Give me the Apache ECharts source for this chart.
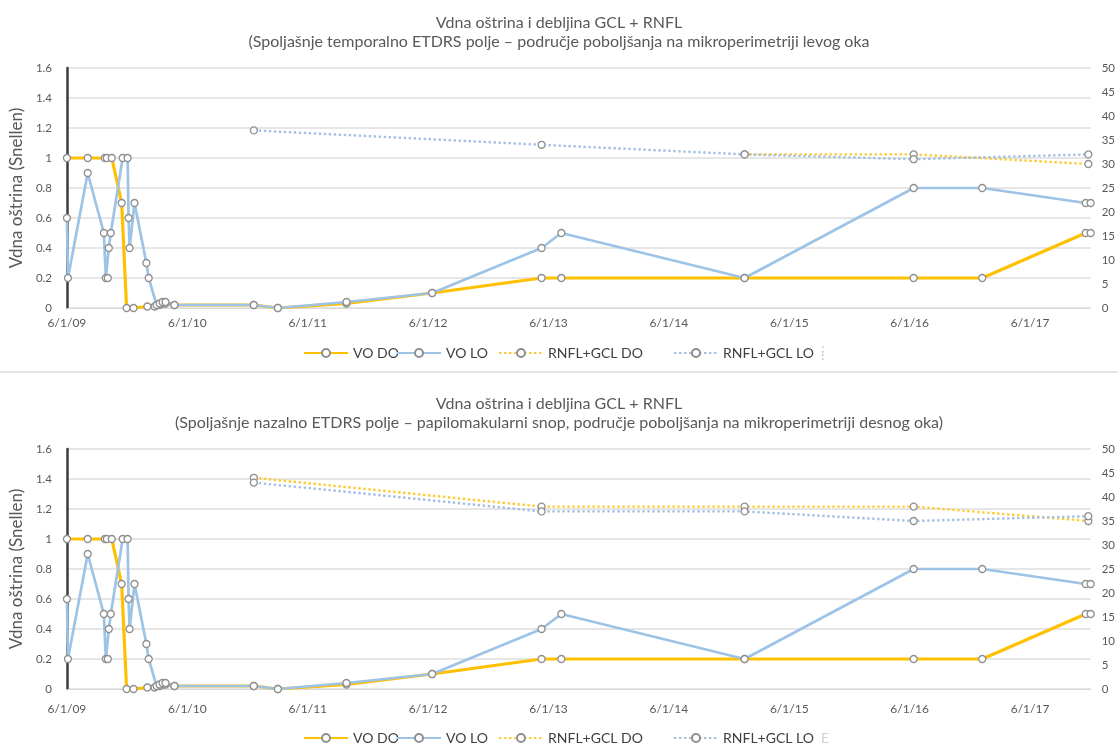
<!DOCTYPE html>
<html>
<head>
<meta charset="utf-8">
<script src="https://cdn.jsdelivr.net/npm/echarts@6/dist/echarts.min.js"></script>
<style>
  html, body { margin: 0; padding: 0; background: #ffffff; }
  #chart { width: 1118px; height: 747px; }
</style>
</head>
<body>
<div id="chart"></div>
<script>
// Visual acuity (Snellen), right eye (DO) and left eye (LO)
const voDoDates = ['2009-06-01','2009-08-03','2009-09-24','2009-09-30','2009-10-15','2009-11-14','2009-11-29','2009-12-20',
  '2010-01-31','2010-02-22','2010-03-09','2010-03-18','2010-03-27','2010-04-23','2010-12-20','2011-03-03','2011-09-27',
  '2012-06-13','2013-05-11','2013-07-10','2015-01-17','2016-06-13','2017-01-07','2017-11-17','2017-12-02'];
const voDoValues = [1.0,1.0,1.0,1.0,1.0,0.7,0.0,0.0,
  0.01,0.01,0.02,0.03,0.03,0.02,0.02,0.0,0.03,
  0.1,0.2,0.2,0.2,0.2,0.2,0.5,0.5];

const voLoDates = ['2009-06-01','2009-06-04','2009-08-03','2009-09-21','2009-09-27','2009-10-03','2009-10-06','2009-10-12',
  '2009-11-17','2009-12-02','2009-12-05','2009-12-08','2009-12-23','2010-01-28','2010-02-04','2010-02-28','2010-03-09',
  '2010-03-18','2010-03-27','2010-04-23','2010-12-20','2011-03-03','2011-09-27','2012-06-13','2013-05-11','2013-07-10',
  '2015-01-17','2016-06-13','2017-01-07','2017-11-17','2017-12-02'];
const voLoValues = [0.6,0.2,0.9,0.5,0.2,0.2,0.4,0.5,
  1.0,1.0,0.6,0.4,0.7,0.3,0.2,0.02,0.03,
  0.04,0.04,0.02,0.02,0.0,0.04,0.1,0.4,0.5,
  0.2,0.8,0.8,0.7,0.7];

// GCL + RNFL thickness, outer temporal ETDRS field (upper panel)
const tempDoDates = ['2015-01-17','2016-06-13','2017-11-25'];
const tempDoValues = [32, 32, 30];
const tempLoDates = ['2010-12-20','2013-05-11','2015-01-17','2016-06-13','2017-11-25'];
const tempLoValues = [37, 34, 32, 31, 32];

// GCL + RNFL thickness, outer nasal ETDRS field (lower panel)
const nasDoDates = ['2010-12-20','2013-05-11','2015-01-17','2016-06-13','2017-11-25'];
const nasDoValues = [44, 38, 38, 38, 35];
const nasLoDates = ['2010-12-20','2013-05-11','2015-01-17','2016-06-13','2017-11-25'];
const nasLoValues = [43, 37, 37, 35, 36];

const xTickLabels = ['6/1/09','6/1/10','6/1/11','6/1/12','6/1/13','6/1/14','6/1/15','6/1/16','6/1/17'];
const seriesNames = ['VO DO','VO LO','RNFL+GCL DO','RNFL+GCL LO'];

const titleMain = 'Vdna oštrina i debljina GCL + RNFL';
const titleTop = '(Spoljašnje temporalno ETDRS polje – područje poboljšanja na mikroperimetriji levog oka';
const titleBottom = '(Spoljašnje nazalno ETDRS polje – papilomakularni snop, područje poboljšanja na mikroperimetriji desnog oka)';
const yAxisTitle = 'Vdna oštrina (Snellen)';

// x positions are days since the first visit
const BASE = Date.UTC(2009, 5, 1);
const YEAR = 365.25;
function dayOf(s) {
  const p = s.split('-').map(Number);
  return (Date.UTC(p[0], p[1] - 1, p[2]) - BASE) / 86400000;
}
function pairs(dates, values) {
  return dates.map((d, i) => [dayOf(d), values[i]]);
}
const xMax = dayOf('2017-12-02');

const FONT = 'Lato';
const GREY = '#595959';
const YELLOW = '#ffc000';
const BLUE = '#9dc3e6';

const marker = { color: '#ffffff', borderColor: '#8f8f8f', borderWidth: 1.3 };

function makeX(gridIndex, margin) {
  return {
    type: 'value', gridIndex, min: 0, max: xMax, interval: YEAR,
    axisLine: { show: true, lineStyle: { color: '#d9d9d9', width: 1 } },
    axisTick: { show: false },
    splitLine: { show: false },
    axisLabel: {
      color: GREY, fontFamily: FONT, fontSize: 12, margin,
      showMaxLabel: false,
      formatter: v => {
        const k = Math.round(v / YEAR);
        return Math.abs(v / YEAR - k) < 0.01 && xTickLabels[k] ? xTickLabels[k] : '';
      }
    }
  };
}
function makeYLeft(gridIndex) {
  return {
    type: 'value', gridIndex, min: 0, max: 1.6, interval: 0.2, position: 'left',
    name: yAxisTitle, nameLocation: 'middle', nameGap: 36,
    nameTextStyle: { color: GREY, fontFamily: FONT, fontSize: 17 },
    axisLine: { show: true, lineStyle: { color: '#3c3c3c', width: 2.5 } },
    axisTick: { show: false },
    splitLine: { show: true, lineStyle: { color: '#dedede', width: 1.5 } },
    axisLabel: { color: GREY, fontFamily: FONT, fontSize: 11.5, margin: 15 }
  };
}
function makeYRight(gridIndex) {
  return {
    type: 'value', gridIndex, min: 0, max: 50, interval: 5, position: 'right',
    axisLine: { show: false }, axisTick: { show: false }, splitLine: { show: false },
    axisLabel: { color: GREY, fontFamily: FONT, fontSize: 11.5, margin: 11 }
  };
}

function panelSeries(gi, doDates, doVals, loDates, loVals) {
  const ly = gi * 2, ry = gi * 2 + 1;
  return [
    { name: seriesNames[0], type: 'line', xAxisIndex: gi, yAxisIndex: ly, data: pairs(voDoDates, voDoValues),
      symbol: 'circle', symbolSize: 7, itemStyle: marker, lineStyle: { color: YELLOW, width: 3.2 } },
    { name: seriesNames[1], type: 'line', xAxisIndex: gi, yAxisIndex: ly, data: pairs(voLoDates, voLoValues),
      symbol: 'circle', symbolSize: 7, itemStyle: marker, lineStyle: { color: BLUE, width: 2.7 } },
    { name: seriesNames[2], type: 'line', xAxisIndex: gi, yAxisIndex: ry, data: pairs(doDates, doVals),
      symbol: 'circle', symbolSize: 7, itemStyle: marker, lineStyle: { color: '#ffcb33', width: 2.4, type: [2.4, 2.6] } },
    { name: seriesNames[3], type: 'line', xAxisIndex: gi, yAxisIndex: ry, data: pairs(loDates, loVals),
      symbol: 'circle', symbolSize: 7, itemStyle: marker, lineStyle: { color: '#a3c0e2', width: 2.4, type: [2.4, 2.6] } }
  ];
}

const legendLefts = [303, 396, 498, 673];
function panelLegends(top) {
  return seriesNames.map((n, i) => ({
    data: [n], left: legendLefts[i], top, itemWidth: 44, itemHeight: 10, itemGap: 5, padding: 0,
    selectedMode: false,
    textStyle: { color: '#404040', fontFamily: FONT, fontSize: 14 }
  }));
}

const titleStyle = { color: GREY, fontFamily: FONT, fontSize: 16, fontWeight: 'normal' };

const option = {
  animation: false,
  backgroundColor: '#ffffff',
  title: [
    { text: titleMain, left: 'center', top: 15, textStyle: titleStyle, padding: 0 },
    { text: titleTop, left: 'center', top: 34, textStyle: titleStyle, padding: 0 },
    { text: titleMain, left: 'center', top: 396, textStyle: titleStyle, padding: 0 },
    { text: titleBottom, left: 'center', top: 415, textStyle: titleStyle, padding: 0 }
  ],
  grid: [
    { left: 62, right: 26, top: 68, height: 240 },
    { left: 62, right: 26, top: 449, height: 240 }
  ],
  xAxis: [makeX(0, 9), makeX(1, 14)],
  yAxis: [makeYLeft(0), makeYRight(0), makeYLeft(1), makeYRight(1)],
  legend: panelLegends(346).concat(panelLegends(731)),
  series: panelSeries(0, tempDoDates, tempDoValues, tempLoDates, tempLoValues)
    .concat(panelSeries(1, nasDoDates, nasDoValues, nasLoDates, nasLoValues)),
  graphic: [
    { type: 'rect', shape: { x: 0, y: 371, width: 1118, height: 2 }, style: { fill: '#e4e4e4' }, silent: true },
    { type: 'text', x: 821, y: 353, style: { text: '⁞', fill: '#c4c4c4', font: '14px Lato', verticalAlign: 'middle' }, silent: true },
    { type: 'text', x: 821, y: 738, style: { text: 'E', fill: '#d0d0d0', font: '14px Lato', verticalAlign: 'middle' }, silent: true }
  ]
};

const chart = echarts.init(document.getElementById('chart'), null, { renderer: 'canvas' });
chart.setOption(option);
</script>
</body>
</html>
